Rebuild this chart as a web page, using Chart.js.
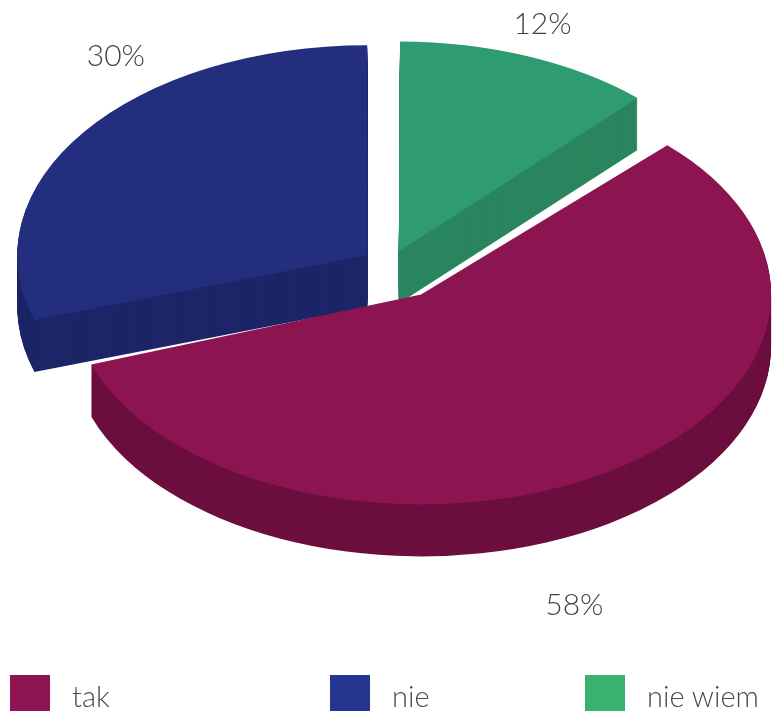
<!DOCTYPE html>
<html>
<head>
<meta charset="utf-8">
<script src="https://cdn.jsdelivr.net/npm/chart.js@4.4.1/dist/chart.umd.min.js"></script>
<style>
  html, body { margin: 0; padding: 0; background: #fff; }
  #wrap { position: relative; width: 773px; height: 711px; overflow: hidden; font-family: Lato, "Open Sans", sans-serif; }
  #legend { position: absolute; left: 0; top: 675px; width: 773px; height: 40px; }
  .item { position: absolute; top: 0; height: 40px; display: flex; align-items: center; font-size: 29px; font-weight: 300; color: #4b4b4b; }
  .box { width: 40px; height: 40px; margin-right: 22px; }
</style>
</head>
<body>
<div id="wrap">
  <canvas id="pie" width="773" height="711"></canvas>
  <div id="legend"></div>
</div>
<script>
// data
var labels = ["tak", "nie", "nie wiem"];
var values = [58, 30, 12];

// look
var topColors = ["#8b1451", "#232f7e", "#2f9b70"];
var sideColors = ["#6c0f3f", "#1c2667", "#2a855f"];
var legendColors = ["#8f1552", "#26358f", "#3bb16f"];
var explode = [58, 28, 24];   // px each slice is pulled out
var labelNudge = [[-53, 116], [60, -63], [2, -13]];
var legendLeft = [10, 330, 585];
var tilt = 0.6;
var depth = 52;

var total = values.reduce(function (a, b) { return a + b; }, 0);

function toScreen(ctx, cx, cy, d) {
  ctx.translate(cx, cy + d);
  ctx.scale(1, tilt);
  ctx.translate(-cx, -cy);
}

// copy of an arc element pulled out by explode[i] px, without the
// extra radius Chart.js gives to offset arcs wider than 180 degrees
function slice(arc, i, color) {
  var el = Object.create(arc);
  var fix = 1 - Math.sin(Math.min(Math.PI, arc.endAngle - arc.startAngle));
  el.outerRadius = arc.outerRadius - explode[i] * fix;
  el.options = Object.assign({}, arc.options, {
    backgroundColor: color, borderWidth: 0, offset: explode[i] * 4
  });
  return el;
}

var pie3d = {
  id: "pie3d",
  beforeDatasetsDraw: function (chart) {
    var ctx = chart.ctx;
    var arcs = chart.getDatasetMeta(0).data;
    var cx = arcs[0].x, cy = arcs[0].y;
    // side walls: stack darker copies downwards, then the top faces
    for (var d = depth; d >= 0; d--) {
      arcs.forEach(function (arc, i) {
        ctx.save();
        toScreen(ctx, cx, cy, d);
        slice(arc, i, d ? sideColors[i] : topColors[i]).draw(ctx);
        ctx.restore();
      });
    }
    return false;
  },
  afterDraw: function (chart) {
    var ctx = chart.ctx;
    var arcs = chart.getDatasetMeta(0).data;
    var cx = arcs[0].x, cy = arcs[0].y;
    ctx.save();
    ctx.font = "300 30px Lato, 'Open Sans', sans-serif";
    ctx.fillStyle = "#444";
    ctx.textAlign = "center";
    ctx.textBaseline = "middle";
    arcs.forEach(function (arc, i) {
      var mid = (arc.startAngle + arc.endAngle) / 2;
      var dist = arc.outerRadius * 1.1 + explode[i];
      var x = cx + Math.cos(mid) * dist + labelNudge[i][0];
      var y = cy + Math.sin(mid) * dist * tilt + labelNudge[i][1];
      ctx.fillText(Math.round(values[i] / total * 100) + "%", x, y);
    });
    ctx.restore();
  }
};

var chart = new Chart(document.getElementById("pie"), {
  type: "pie",
  data: {
    labels: labels,
    datasets: [{
      data: values,
      backgroundColor: topColors,
      borderWidth: 0,
      clip: false
    }]
  },
  options: {
    responsive: false,
    animation: false,
    events: [],
    radius: 350,
    rotation: values[2] / total * 360,
    layout: { padding: { left: 7, bottom: 181 } },
    plugins: {
      legend: { display: false },
      tooltip: { enabled: false }
    }
  },
  plugins: [pie3d]
});

// legend in fixed columns
var legend = document.getElementById("legend");
labels.forEach(function (name, i) {
  var item = document.createElement("div");
  item.className = "item";
  item.style.left = legendLeft[i] + "px";
  item.innerHTML = '<div class="box" style="background:' + legendColors[i] + '"></div><span>' + name + "</span>";
  legend.appendChild(item);
});
</script>
</body>
</html>
